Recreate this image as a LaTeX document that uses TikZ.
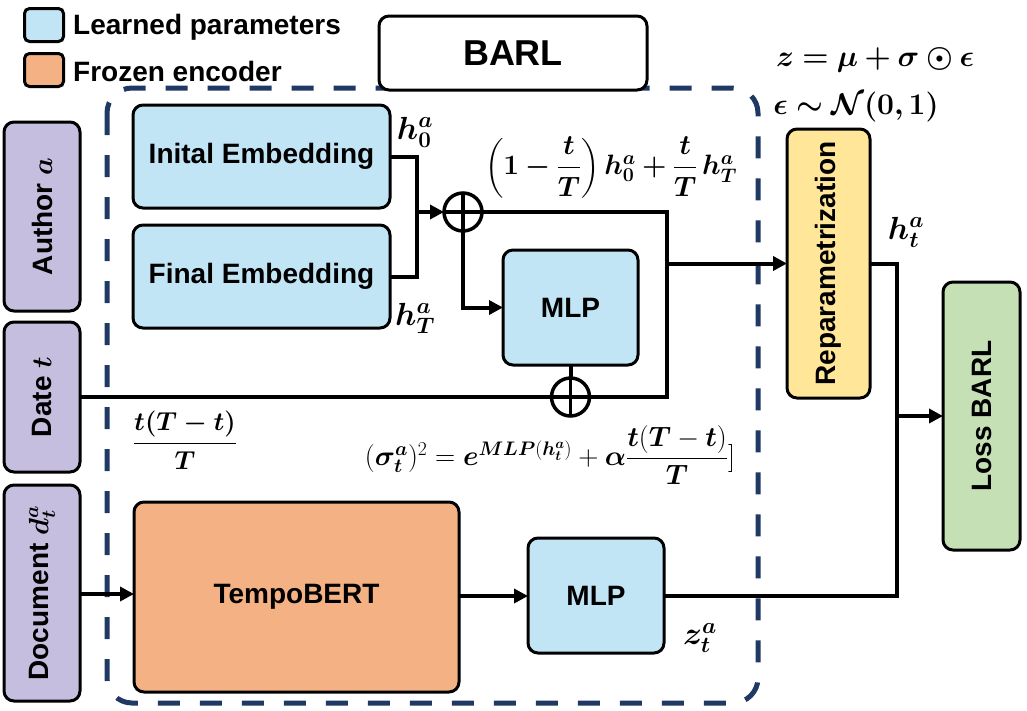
\RequirePackage{fix-cm}
\documentclass[tikz,border=0pt]{standalone}
\usepackage{amsmath}
\usepackage{bm}
\usepackage[no-math]{fontspec}
\setmainfont{Liberation Sans}
\usetikzlibrary{arrows.meta}
\definecolor{lblue}{HTML}{C2E5F5}
\definecolor{lorange}{HTML}{F4B183}
\definecolor{lpurple}{HTML}{C6BEDF}
\definecolor{lyellow}{HTML}{FFE699}
\definecolor{lgreen}{HTML}{C5E0B4}
\definecolor{navy}{HTML}{1F3864}
\tikzset{
  blk/.style={draw=black, line width=3pt, rounded corners=10pt, inner sep=0pt, outer sep=0pt,
    font=\fontsize{28}{32}\selectfont\bfseries, align=center},
  conn/.style={line width=4pt, line join=miter},
  arr/.style={conn, -{Triangle[length=14pt,width=14pt]}},
  opl/.style={draw=black, circle, fill=white, line width=3.5pt, minimum size=38pt, inner sep=0pt, outer sep=0pt},
  mlab/.style={font=\fontsize{32}{38}\selectfont, inner sep=0pt},
  leg/.style={font=\fontsize{28}{32}\selectfont\bfseries, inner sep=0pt, anchor=west}
}
\begin{document}
\begin{tikzpicture}[x=1pt,y=-1pt]
\useasboundingbox (0,0) rectangle (1027,710);
% legend
\node[draw, line width=3pt, fill=lblue, rounded corners=5pt, minimum width=39pt, minimum height=33pt, inner sep=0pt] (lgb) at (44,25) {};
\node[draw, line width=3pt, fill=lorange, rounded corners=5pt, minimum width=39pt, minimum height=33pt, inner sep=0pt] (lgo) at (44,70) {};
\node[leg] (lgbt) at (73,27) {Learned parameters};
\node[leg] (lgot) at (73,71) {Frozen encoder};
% dashed BARL region
\draw[navy, line width=5pt, dash pattern=on 22pt off 20pt, rounded corners=25pt] (107,88) rectangle (758,703);
% BARL title
\node[blk, fill=white, font=\fontsize{36}{40}\selectfont\bfseries, minimum width=268pt, minimum height=74pt] (barl) at (513,53) {BARL};
% input boxes
\node[blk, fill=lpurple, rotate=90, minimum width=189pt, minimum height=76pt] (author) at (42,216.5) {Author $\bm{a}$};
\node[blk, fill=lpurple, rotate=90, minimum width=150pt, minimum height=76pt] (date) at (42,397) {Date $\bm{t}$};
\node[blk, fill=lpurple, rotate=90, minimum width=216pt, minimum height=76pt] (doc) at (42,593) {Document $\bm{d_t^a}$};
% embeddings
\node[blk, fill=lblue, minimum width=257pt, minimum height=103pt] (init) at (261.5,156.5) {Inital Embedding};
\node[blk, fill=lblue, minimum width=257pt, minimum height=103pt] (final) at (261.5,276.5) {Final Embedding};
\node[blk, fill=lblue, minimum width=135pt, minimum height=115pt] (mlpa) at (570.5,307.5) {MLP};
\node[blk, fill=lorange, minimum width=325pt, minimum height=190pt] (tempo) at (296.5,597) {TempoBERT};
\node[blk, fill=lblue, minimum width=136pt, minimum height=115pt] (mlpb) at (596,595.5) {MLP};
\node[blk, fill=lyellow, rotate=90, minimum width=269pt, minimum height=83pt] (rep) at (828.5,263.5) {Reparametrization};
\node[blk, fill=lgreen, rotate=90, minimum width=268pt, minimum height=77pt] (loss) at (981.5,416) {Loss BARL};
% junction coordinates
\coordinate (j1) at (417,212);
\coordinate (c1pos) at (463,212);
\coordinate (c2pos) at (570.5,397);
\coordinate (jr) at (667,263.5);
\coordinate (jtop) at (667,212);
\coordinate (jbot) at (667,397);
\coordinate (jl) at (897,416);
% connectors
\draw[conn] (init.east |- 0,156.5) -| (j1) |- (final.east |- 0,276.5);
\draw[conn] (c1pos) -- (jtop) -- (jbot) -- (date.south);
\draw[arr] (jr) -- (rep.north);
\draw[arr] (c1pos) |- (mlpa.west);
\draw[conn] (mlpa.south) -- (c2pos);
\draw[arr] (doc.south |- 0,594) -- (tempo.west |- 0,594);
\draw[arr] (tempo.east |- 0,596) -- (mlpb.west |- 0,596);
\draw[conn] (mlpb.east |- 0,596) -| (jl) |- (rep.south);
\draw[arr] (jl) -- (loss.north);
% oplus circles
\node[opl] (c1) at (c1pos) {};
\draw[line width=3.5pt] (c1.north) -- (c1.south) (c1.west) -- (c1.east);
\node[opl] (c2) at (c2pos) {};
\draw[line width=3.5pt] (c2.north) -- (c2.south) (c2.west) -- (c2.east);
\draw[arr] (j1) -- (c1.west);
% math labels
\node[mlab] (h0) at (415,132) {$\bm{h_0^a}$};
\node[mlab] (hT) at (415,318) {$\bm{h_T^a}$};
\node[mlab, font=\fontsize{28}{34}\selectfont] (interp) at (611,167) {$\bm{\left(1-\dfrac{t}{T}\right)h_0^a+\dfrac{t}{T}\,h_T^a}$};
\node[mlab, font=\fontsize{30}{36}\selectfont] (zeq) at (875,60) {$\bm{z=\mu+\sigma\odot\epsilon}$};
\node[mlab, font=\fontsize{30}{36}\selectfont] (eps) at (856,107) {$\bm{\epsilon\sim\mathcal{N}(0,1)}$};
\node[mlab] (ht) at (906,232) {$\bm{h_t^a}$};
\node[mlab] (zt) at (700,638) {$\bm{z_t^a}$};
\node[mlab, font=\fontsize{26}{32}\selectfont] (frac) at (185,440) {$\bm{\dfrac{t(T-t)}{T}}$};
\node[mlab, font=\fontsize{28}{34}\selectfont] (sig) at (550,455) {$(\bm{\sigma_t^a})^2=\bm{e}^{\bm{MLP}(\bm{h_t^a})}+\bm{\alpha}\dfrac{\bm{t}(\bm{T}-\bm{t})}{\bm{T}}]$};
\end{tikzpicture}
\end{document}
